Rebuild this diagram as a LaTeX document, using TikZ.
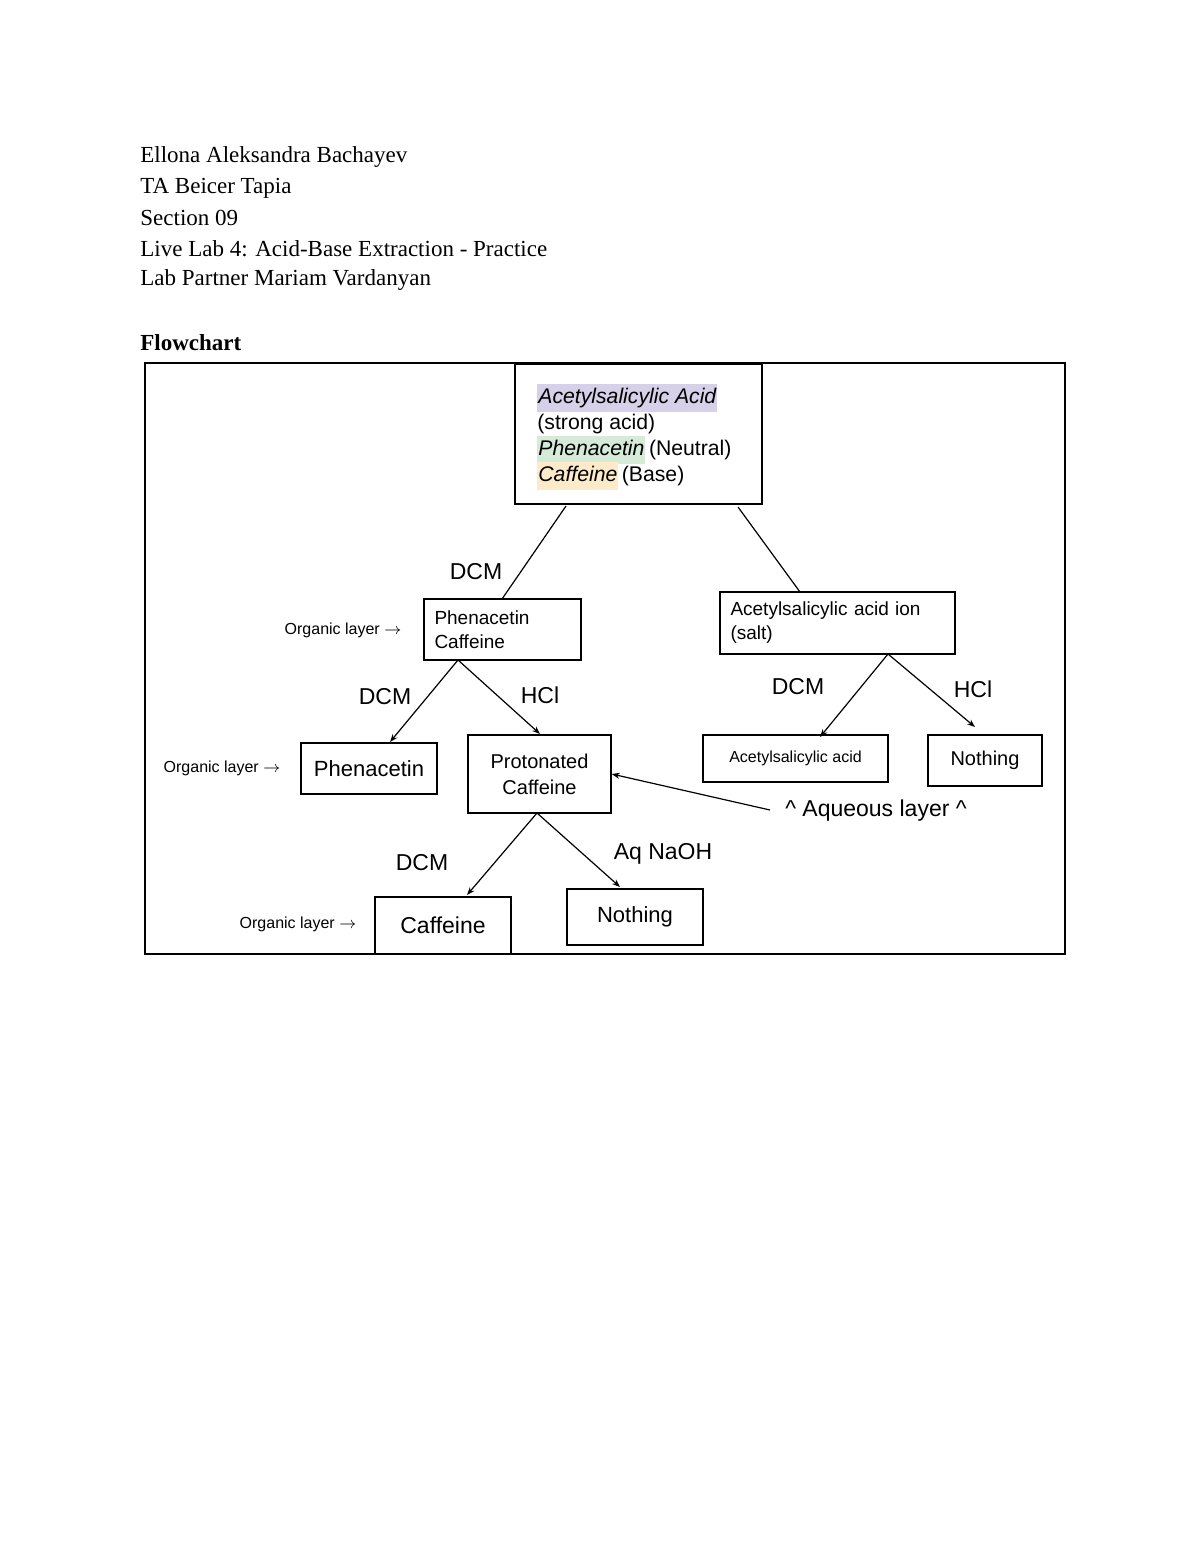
\documentclass[tikz,border=0pt]{standalone}
\usepackage{fontspec}
\setmainfont{Liberation Serif}
\newfontfamily\sans{Liberation Sans}
\usetikzlibrary{arrows.meta}
\definecolor{lav}{RGB}{214,208,232}
\definecolor{grn}{RGB}{214,234,216}
\definecolor{org}{RGB}{253,234,200}
\begin{document}
\begin{tikzpicture}[x=0.5pt,y=-0.5pt,
  hdr/.style={anchor=west,font=\fontsize{11.5}{13}\selectfont,inner sep=0},
  bx/.style={draw,line width=0.7pt,font=\sans\fontsize{9.5}{12}\selectfont,align=left,inner sep=0},
  lab/.style={font=\sans\fontsize{11.5}{13}\selectfont,inner sep=0},
  org/.style={font=\sans\fontsize{8}{10}\selectfont,inner sep=0},
  tl/.style={anchor=west,inner sep=0,font=\sans\fontsize{10.6}{13}\selectfont},
  ln/.style={line width=0.6pt},
  ar/.style={ln,-{Stealth[length=4pt,width=3pt]}}]
\useasboundingbox (0,0) rectangle (1200,1553);
\setlength{\fboxsep}{0.5pt}
\node[hdr] (h1) at (140,157) {Ellona Aleksandra Bachayev};
\node[hdr] (h2) at (140,188) {TA Beicer Tapia};
\node[hdr] (h3) at (140,218) {Section 09};
\node[hdr] (h4) at (140,249) {Live Lab 4: Acid-Base Extraction - Practice};
\node[hdr] (h5) at (140,280) {Lab Partner Mariam Vardanyan};
\node[hdr,font=\bfseries\fontsize{11.5}{13}\selectfont] (h6) at (140,343) {Flowchart};
\draw[line width=1pt] (145,363) rectangle (1065,954);
% top box
\draw[line width=1.2pt] (515,364) rectangle (762,504);
\node[tl] (t1) at (537,398) {\colorbox{lav}{\strut\itshape Acetylsalicylic Acid}};
\node[tl] (t2) at (537,424) {(strong acid)};
\node[tl] (t3) at (537,450) {\colorbox{grn}{\strut\itshape Phenacetin}\,(Neutral)};
\node[tl] (t4) at (537,476) {\colorbox{org}{\strut\itshape Caffeine}\,(Base)};
\coordinate (tl) at (566,506); \coordinate (tr) at (738,507);
% second level
\node[bx,minimum width=78.5pt,minimum height=30.5pt,text width=68pt] (pc) at (502.5,629.5) {Phenacetin\\Caffeine};
\node[bx,minimum width=117.5pt,minimum height=31pt,text width=107pt] (ai) at (837.5,623) {Acetylsalicylic acid ion\\(salt)};
\draw[ln] (tl) -- (pc.north);
\draw[ln] (tr) -- (800,592);
\node[lab] (d1) at (476,572) {DCM};
\node[org] (o1) at (343,630) {Organic layer $\rightarrow$};
% third level
\node[bx,minimum width=68pt,minimum height=25.5pt,align=center,font=\sans\fontsize{11}{13}\selectfont] (ph) at (369,768.5) {Phenacetin};
\node[bx,minimum width=71.5pt,minimum height=39pt,align=center,font=\sans\fontsize{10}{13}\selectfont] (pr) at (539.5,774) {Protonated\\Caffeine};
\coordinate (pcb) at (458,660);
\draw[ar] (pcb) -- (390,742);
\draw[ar] (pcb) -- (540,734);
\node[lab] (d2) at (385,697) {DCM};
\node[lab] (c2) at (540,695) {HCl};
\node[org] (o2) at (222,768) {Organic layer $\rightarrow$};
\node[bx,minimum width=92.5pt,minimum height=23.5pt,align=center,font=\sans\fontsize{8}{10}\selectfont] (aa) at (795.5,758.5) {Acetylsalicylic acid};
\node[bx,minimum width=57pt,minimum height=25.5pt,align=center,font=\sans\fontsize{10}{12}\selectfont] (n1) at (985,760.5) {Nothing};
\coordinate (aib) at (888,654);
\draw[ar] (aib) -- (820,737);
\draw[ar] (aib) -- (975,727);
\node[lab] (d3) at (798,687) {DCM};
\node[lab] (c3) at (973,689) {HCl};
\node[lab] (aq) at (876,811) {\^{} Aqueous layer \^{}};
\draw[ar] (770,810) -- (pr.east);
% fourth level
\coordinate (prb) at (537,813);
\node[bx,minimum width=68pt,minimum height=28.5pt,align=center,font=\sans\fontsize{11.5}{13}\selectfont] (cf) at (443,925.5) {Caffeine};
\node[bx,minimum width=68pt,minimum height=28pt,align=center,font=\sans\fontsize{11}{13}\selectfont] (n2) at (635,917) {Nothing};
\draw[ar] (prb) -- (467,895);
\draw[ar] (prb) -- (620,887);
\node[lab] (d4) at (422,863) {DCM};
\node[lab] (c4) at (663,854) {Aq NaOH};
\node[org] (o3) at (298,924) {Organic layer $\rightarrow$};
\end{tikzpicture}
\end{document}
